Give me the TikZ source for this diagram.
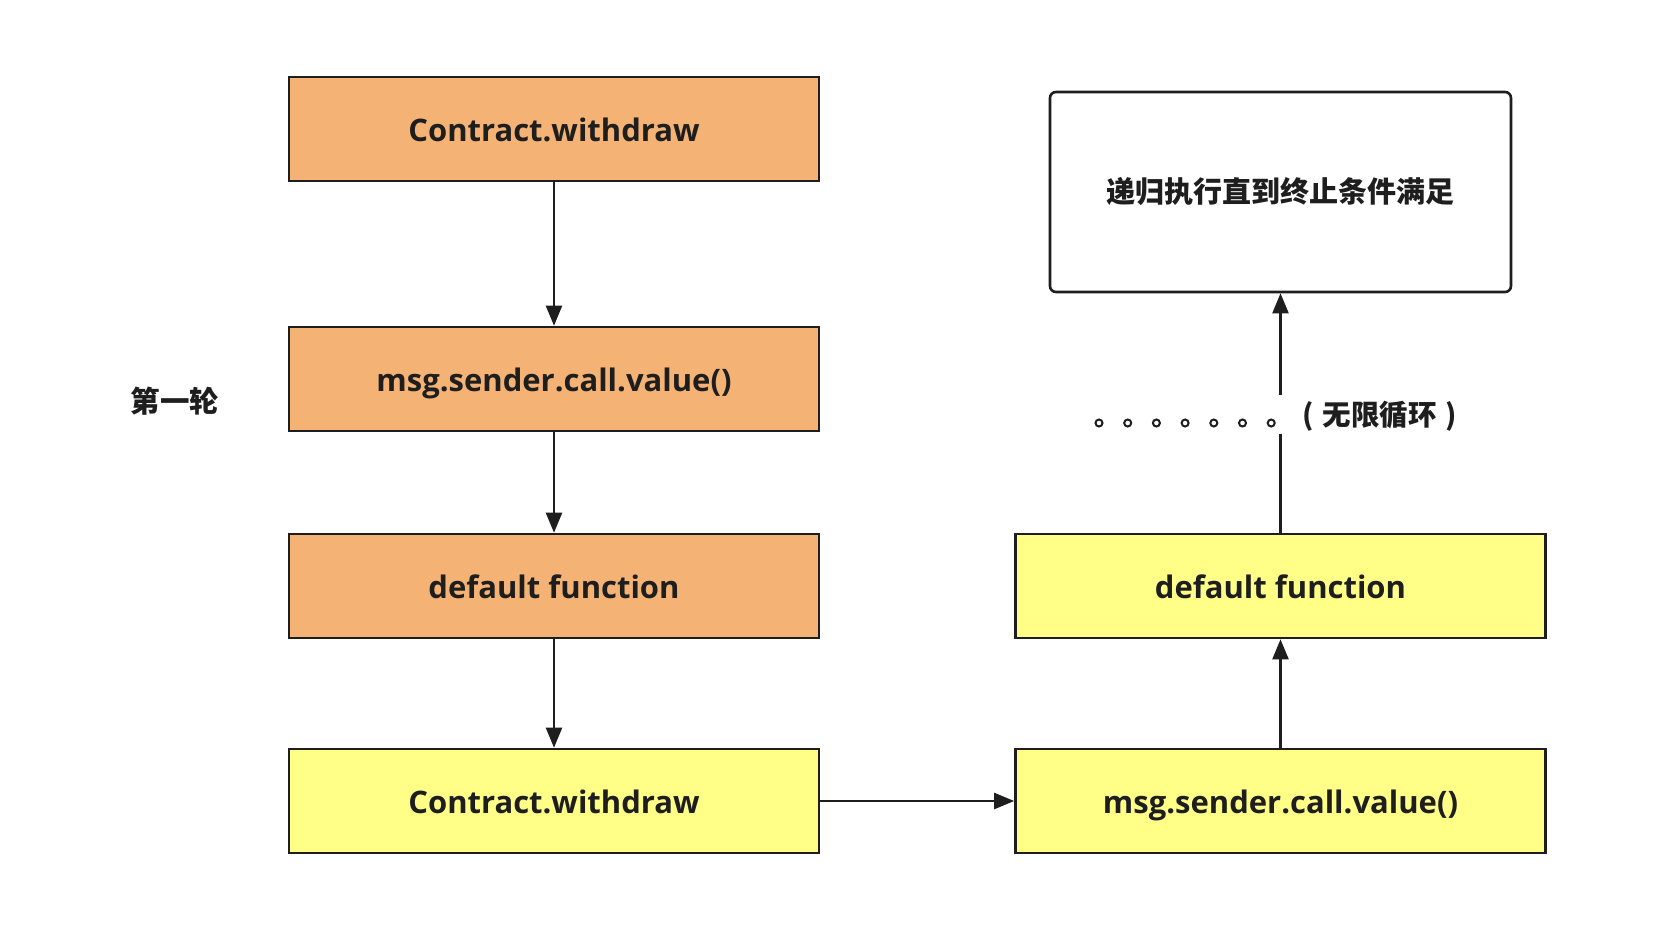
\documentclass[tikz,border=0pt]{standalone}
\usepackage{fontspec}
\setmainfont{Open Sans}
\newfontfamily\cjk{Noto Sans CJK SC}
\usetikzlibrary{arrows.meta}
\definecolor{orng}{HTML}{F4B375}
\definecolor{ylw}{HTML}{FFFF88}
\definecolor{ink}{HTML}{1E1E1E}
\tikzset{
  box/.style={draw=ink, line width=2.6pt, minimum width=530pt, minimum height=104pt, inner sep=0pt,
    font=\fontsize{31}{36}\selectfont\bfseries, text=ink, text height=26pt, text depth=2pt},
  obox/.style={box, fill=orng},
  ybox/.style={box, fill=ylw},
  wbox/.style={draw=ink, line width=2.6pt, rounded corners=6pt, fill=white, minimum width=461pt, minimum height=200pt,
    font=\fontsize{29}{34}\selectfont\cjk\bfseries, text=ink},
  conn/.style={draw=ink, line width=2.2pt},
  arr/.style={conn, -{Triangle[length=20pt,width=16pt]}},
  cjklbl/.style={font=\fontsize{29.5}{34}\selectfont\cjk\bfseries, text=ink, inner sep=0pt},
  dotring/.style={draw=ink, line width=2pt, fill=white},
}
\begin{document}
\begin{tikzpicture}[x=1pt,y=-1pt]
\useasboundingbox[fill=white] (0,0) rectangle (1668,943);
\node[obox] (b1) at (554,129) {Contract.withdraw};
\node[obox] (b2) at (554,379) {msg.sender.call.value()};
\node[obox] (b3) at (554,586) {default function};
\node[ybox] (b4) at (554,801) {Contract.withdraw};
\node[ybox] (b5) at (1280.5,801) {msg.sender.call.value()};
\node[ybox] (b6) at (1280.5,586) {default function};
\node[wbox] (b7) at (1280.5,192) {递归执行直到终止条件满足};
\node[cjklbl] (round) at (175,401) {第一轮};
\node[cjklbl, anchor=west, font=\fontsize{28.5}{34}\selectfont\cjk\bfseries] (loop) at (1302,416) {(\hspace{9pt}无限循环\hspace{9pt})};
\coordinate (gapbot) at (1280.5,434);
\coordinate (gaptop) at (1280.5,395);
\foreach \i in {0,...,6} {
  \draw[dotring] (1099+\i*28.7,423) circle (3.5);
}
\draw[arr] (b1) -- (b2);
\draw[arr] (b2) -- (b3);
\draw[arr] (b3) -- (b4);
\draw[arr] (b4) -- (b5);
\draw[arr] (b5) -- (b6);
\draw[conn] (b6.north) -- (gapbot);
\draw[arr] (gaptop) -- (b7.south);
\end{tikzpicture}
\end{document}
